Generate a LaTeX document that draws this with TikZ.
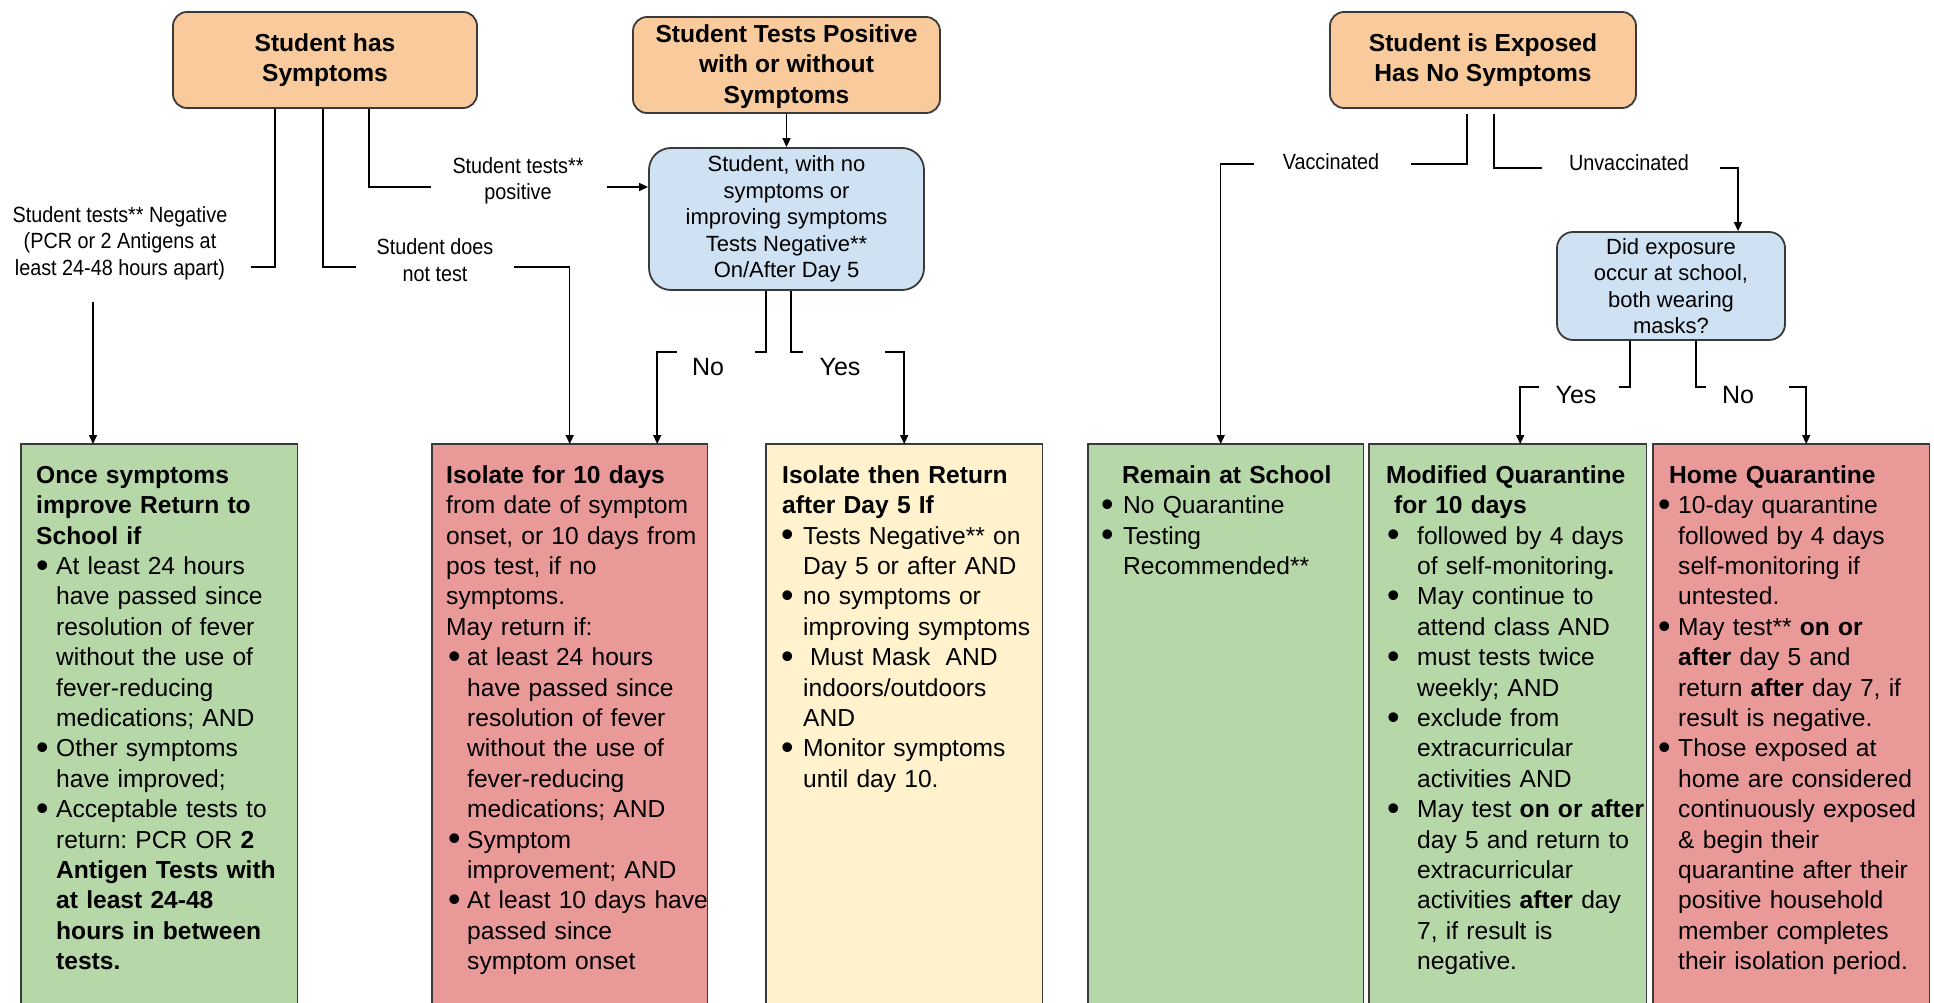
\documentclass[tikz,border=0pt]{standalone}
\usepackage{fontspec}
\usepackage{graphicx}
\setmainfont{Liberation Sans}
\newfontfamily\condfont[FakeStretch=0.9]{Liberation Sans}
\usetikzlibrary{arrows.meta}
\definecolor{orangefill}{HTML}{F9CB9C}
\definecolor{bluefill}{HTML}{CFE2F3}
\definecolor{greenfill}{HTML}{B6D7A8}
\definecolor{redfill}{HTML}{EA9999}
\definecolor{yellowfill}{HTML}{FFF2CC}
\definecolor{edge}{HTML}{3A3A3A}
\setlength{\parindent}{0pt}
\setlength{\parskip}{0pt}
\frenchspacing
\newcommand{\nl}{\newline}
\newcommand{\bigbul}{\raisebox{-0.12em}{\scalebox{1.45}{\textbullet}}}
\newcommand{\bitem}[3]{\par\noindent\hangindent=#2\hangafter=1\makebox[#2][l]{\hspace*{#1}\bigbul}#3}
\newcommand{\topstrut}{\rule{0pt}{22pt}}
\begin{document}
\begin{tikzpicture}[x=1pt,y=-1pt,
  conn/.style={line width=1.5pt, draw=black},
  arr/.style={conn, -{Triangle[length=9pt,width=8pt]}},
  topbox/.style={draw=edge, line width=1.8pt, rounded corners=14pt, fill=orangefill, align=center, font=\bfseries\fontsize{24.6}{30.4}\selectfont, inner sep=0pt},
  qbox/.style={draw=edge, line width=1.8pt, fill=bluefill, align=center, font=\fontsize{22}{26.5}\selectfont, inner sep=0pt},
  lbl/.style={align=center, font=\condfont\fontsize{22}{26.5}\selectfont, inner sep=0pt},
  yn/.style={font=\fontsize{25}{30}\selectfont, inner sep=0pt},
  outbox/.style={anchor=north west, inner sep=0pt, minimum height=600pt},
  outtext/.style={anchor=north west, inner sep=0pt, font=\fontsize{24.6}{30.4}\selectfont},
  outedge/.style={draw=edge, line width=1.5pt}
]
\useasboundingbox (0,0) rectangle (1934,1003);
\fill[white] (0,0) rectangle (1934,1003);
\clip (0,0) rectangle (1934,1003);

% top boxes
\node[topbox, minimum width=304pt, minimum height=96pt] (sym) at (325,60) {Student has\\Symptoms};
\node[topbox, minimum width=307pt, minimum height=96pt] (pos) at (786.5,65) {\rule{0pt}{21pt}Student Tests Positive\\with or without\\Symptoms};
\node[topbox, minimum width=306pt, minimum height=96pt] (exp) at (1483,60) {Student is Exposed\\Has No Symptoms};

% question boxes
\node[qbox, rounded corners=22pt, minimum width=275pt, minimum height=142pt] (neg) at (786.5,219) {Student, with no\\symptoms or\\improving symptoms\\Tests Negative**\\On/After Day 5};
\node[qbox, rounded corners=16pt, minimum width=228pt, minimum height=108pt] (mask) at (1671,286) {Did exposure\\occur at school,\\both wearing\\masks?};

% outcome boxes
\node[outbox, fill=greenfill, minimum width=276pt] (b1) at (21,444) {};
\node[outbox, fill=redfill, minimum width=275pt] (b2) at (432,444) {};
\node[outbox, fill=yellowfill, minimum width=276pt] (b3) at (766,444) {};
\node[outbox, fill=greenfill, minimum width=275pt] (b4) at (1088,444) {};
\node[outbox, fill=greenfill, minimum width=277pt] (b5) at (1369,444) {};
\node[outbox, fill=redfill, minimum width=276pt] (b6) at (1653,444) {};
\foreach \b in {b1,b2,b3,b4,b5,b6}{
  \draw[outedge] (\b.south west) -- (\b.north west) -- (\b.north east) -- (\b.south east);
}

% outcome texts
\node[outtext, text width=262pt] (t1) at (36,461) {\topstrut\textbf{Once symptoms}\nl\textbf{improve Return to}\nl\textbf{School if}
\bitem{0pt}{20pt}{At least 24 hours\nl have passed since\nl resolution of fever\nl without the use of\nl fever-reducing\nl medications; AND}
\bitem{0pt}{20pt}{Other symptoms\nl have improved;}
\bitem{0pt}{20pt}{Acceptable tests to\nl return: PCR OR \textbf{2}\nl \textbf{Antigen Tests with}\nl \textbf{at least 24-48}\nl \textbf{hours in between}\nl \textbf{tests.}}\par};

\node[outtext, text width=272pt] (t2) at (446,461) {\topstrut\textbf{Isolate for 10 days}\nl from date of symptom\nl onset, or 10 days from\nl pos test, if no\nl symptoms.\nl May return if:
\bitem{2pt}{21pt}{at least 24 hours\nl have passed since\nl resolution of fever\nl without the use of\nl fever-reducing\nl medications; AND}
\bitem{2pt}{21pt}{Symptom\nl improvement; AND}
\bitem{2pt}{21pt}{At least 10 days have\nl passed since\nl symptom onset}\par};

\node[outtext, text width=262pt] (t3) at (781,461) {\topstrut\hspace*{1pt}\textbf{Isolate then Return}\nl\hspace*{1pt}\textbf{after Day 5 If}
\bitem{0pt}{22pt}{Tests Negative** on\nl Day 5 or after AND}
\bitem{0pt}{22pt}{no symptoms or\nl improving symptoms}
\bitem{0pt}{22pt}{\hspace*{7pt}Must Mask\hspace{7pt} AND\nl indoors/outdoors\nl AND}
\bitem{0pt}{22pt}{Monitor symptoms\nl until day 10.}\par};

\node[outtext, text width=262pt] (t4) at (1101,461) {\topstrut\hspace*{21pt}\textbf{Remain at School}
\bitem{0pt}{22pt}{No Quarantine}
\bitem{0pt}{22pt}{Testing\nl Recommended**}\par};

\node[outtext, text width=266pt] (t5) at (1386,461) {\topstrut\textbf{Modified Quarantine}\nl\hspace*{8pt}\textbf{for 10 days}
\bitem{1pt}{31pt}{followed by 4 days\nl of self-monitoring\textbf{.}}
\bitem{1pt}{31pt}{May continue to\nl attend class AND}
\bitem{1pt}{31pt}{must tests twice\nl weekly; AND}
\bitem{1pt}{31pt}{exclude from\nl extracurricular\nl activities AND}
\bitem{1pt}{31pt}{May test \textbf{on or after}\nl day 5 and return to\nl extracurricular\nl activities \textbf{after} day\nl 7, if result is\nl negative.}\par};

\node[outtext, text width=272pt] (t6) at (1658,461) {\topstrut\hspace*{11pt}\textbf{Home Quarantine}
\bitem{0pt}{20pt}{10-day quarantine\nl followed by 4 days\nl self-monitoring if\nl untested.}
\bitem{0pt}{20pt}{May test** \textbf{on or}\nl \textbf{after} day 5 and\nl return \textbf{after} day 7, if\nl result is negative.}
\bitem{0pt}{20pt}{Those exposed at\nl home are considered\nl continuously exposed\nl \& begin their\nl quarantine after their\nl positive household\nl member completes\nl their isolation period.}\par};

% connector labels
\node[lbl] (lneg) at (120,243) {Student tests** Negative\\(PCR or 2 Antigens at\\least 24-48 hours apart)};
\node[lbl] (lnot) at (435,260) {Student does\\not test};
\node[lbl] (lpos) at (518,181) {Student tests**\\positive};
\node[yn] (lno1) at (708,367) {No};
\node[yn] (lyes1) at (840,367) {Yes};
\node[lbl] (lvac) at (1331,162) {Vaccinated};
\node[lbl] (lunv) at (1629,163) {Unvaccinated};
\node[yn] (lyes2) at (1576,395) {Yes};
\node[yn] (lno2) at (1738,395) {No};

% bend coordinates
\coordinate (c1end) at (251,267);
\coordinate (c1start) at (93,302);
\coordinate (c2end) at (356,267);
\coordinate (c2start) at (514,267);
\coordinate (c3end) at (431,187);
\coordinate (c3start) at (607,187);
\coordinate (c5end) at (755,352);
\coordinate (c5start) at (677,352);
\coordinate (c6end) at (803,352);
\coordinate (c6start) at (885,352);
\coordinate (c7end) at (1411,164);
\coordinate (c7start) at (1254,164);
\coordinate (c8end) at (1542,168);
\coordinate (c8start) at (1720,168);
\coordinate (c9end) at (1619,387);
\coordinate (c9start) at (1539,387);
\coordinate (c10end) at (1706,387);
\coordinate (c10start) at (1789,387);

% connectors from "Student has Symptoms"
\draw[conn] ([xshift=-50pt]sym.south) |- (c1end);
\draw[arr] (c1start) -- (c1start |- b1.north);
\draw[conn] ([xshift=-2pt]sym.south) |- (c2end);
\draw[arr] (c2start) -| (b2.north);
\draw[conn] ([xshift=44pt]sym.south) |- (c3end);
\draw[arr] (c3start) -- (c3start -| neg.west);

% Tests positive
\draw[arr] (pos.south) -- (neg.north);
\draw[conn] ([xshift=-20.5pt]neg.south) |- (c5end);
\draw[arr] (c5start) -| ([xshift=87.5pt]b2.north);
\draw[conn] ([xshift=4.5pt]neg.south) |- (c6end);
\draw[arr] (c6start) -| (b3.north);

% Exposed
\draw[conn] ([xshift=-16pt,yshift=-5pt]exp.south) |- (c7end);
\draw[arr] (c7start) -| ([xshift=-5pt]b4.north);
\draw[conn] ([xshift=11pt,yshift=-5pt]exp.south) |- (c8end);
\draw[arr] (c8start) -| ([xshift=67pt]mask.north);
\draw[conn] ([xshift=-41pt]mask.south) |- (c9end);
\draw[arr] (c9start) -| ([xshift=12.5pt]b5.north);
\draw[conn] ([xshift=25pt]mask.south) |- (c10end);
\draw[arr] (c10start) -| ([xshift=15pt]b6.north);
\end{tikzpicture}
\end{document}
